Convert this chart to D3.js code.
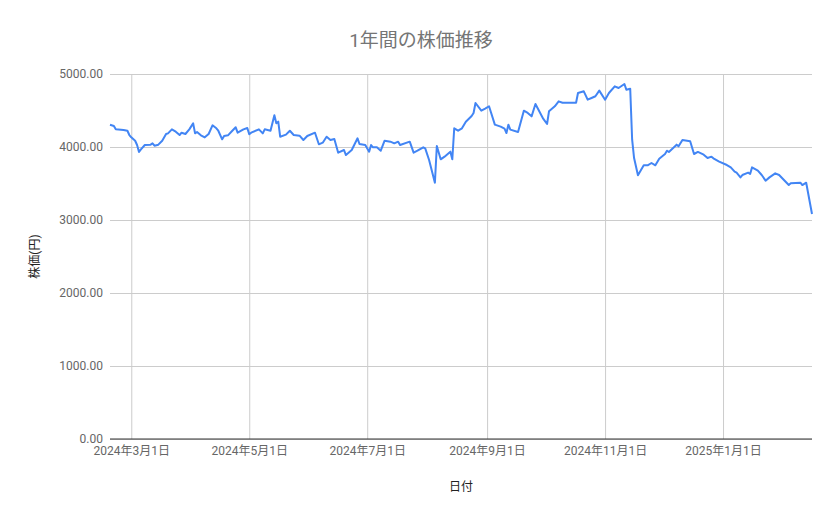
<!DOCTYPE html>
<html>
<head>
<meta charset="utf-8">
<script src="https://cdn.jsdelivr.net/npm/d3@7"></script>
<style>
  body { margin: 0; background: #fff; }
  svg text { font-family: Roboto, "Noto Sans CJK JP", sans-serif; }
</style>
</head>
<body>
<div id="chart"></div>
<script>
// data
const dates = [
  '2024-02-19', '2024-02-21', '2024-02-22', '2024-02-26', '2024-02-28', '2024-02-29',
  '2024-03-01', '2024-03-03', '2024-03-04', '2024-03-05', '2024-03-06', '2024-03-08',
  '2024-03-11', '2024-03-12', '2024-03-13', '2024-03-15', '2024-03-17', '2024-03-19',
  '2024-03-20', '2024-03-22', '2024-03-24', '2024-03-26', '2024-03-27', '2024-03-29',
  '2024-03-31', '2024-04-02', '2024-04-03', '2024-04-04', '2024-04-06', '2024-04-08',
  '2024-04-10', '2024-04-12', '2024-04-14', '2024-04-15', '2024-04-17', '2024-04-18',
  '2024-04-20', '2024-04-22', '2024-04-24', '2024-04-25', '2024-04-28', '2024-04-30',
  '2024-05-01', '2024-05-02', '2024-05-06', '2024-05-08', '2024-05-09', '2024-05-12',
  '2024-05-14', '2024-05-15', '2024-05-16', '2024-05-17', '2024-05-20', '2024-05-22',
  '2024-05-24', '2024-05-27', '2024-05-29', '2024-05-31', '2024-06-04', '2024-06-06',
  '2024-06-08', '2024-06-10', '2024-06-12', '2024-06-14', '2024-06-16', '2024-06-19',
  '2024-06-20', '2024-06-23', '2024-06-26', '2024-06-27', '2024-06-30', '2024-07-02',
  '2024-07-03', '2024-07-04', '2024-07-06', '2024-07-08', '2024-07-10', '2024-07-13',
  '2024-07-15', '2024-07-17', '2024-07-18', '2024-07-23', '2024-07-25', '2024-07-27',
  '2024-07-30', '2024-07-31', '2024-08-02', '2024-08-05', '2024-08-06', '2024-08-08',
  '2024-08-10', '2024-08-13', '2024-08-14', '2024-08-15', '2024-08-17', '2024-08-19',
  '2024-08-21', '2024-08-24', '2024-08-25', '2024-08-26', '2024-08-29', '2024-08-31',
  '2024-09-02', '2024-09-05', '2024-09-08', '2024-09-10', '2024-09-11', '2024-09-12',
  '2024-09-13', '2024-09-17', '2024-09-20', '2024-09-22', '2024-09-24', '2024-09-26',
  '2024-09-30', '2024-10-02', '2024-10-03', '2024-10-06', '2024-10-08', '2024-10-10',
  '2024-10-17', '2024-10-18', '2024-10-21', '2024-10-23', '2024-10-25', '2024-10-27',
  '2024-10-29', '2024-11-01', '2024-11-03', '2024-11-06', '2024-11-08', '2024-11-11',
  '2024-11-12', '2024-11-14', '2024-11-15', '2024-11-16', '2024-11-18', '2024-11-21',
  '2024-11-23', '2024-11-25', '2024-11-27', '2024-11-29', '2024-12-02', '2024-12-03',
  '2024-12-04', '2024-12-08', '2024-12-09', '2024-12-11', '2024-12-15', '2024-12-17',
  '2024-12-19', '2024-12-22', '2024-12-24', '2024-12-26', '2024-12-27', '2024-12-30',
  '2025-01-03', '2025-01-05', '2025-01-07', '2025-01-08', '2025-01-10', '2025-01-11',
  '2025-01-14', '2025-01-15', '2025-01-16', '2025-01-19', '2025-01-21', '2025-01-23',
  '2025-01-25', '2025-01-28', '2025-01-30', '2025-02-04', '2025-02-05', '2025-02-10',
  '2025-02-11', '2025-02-13', '2025-02-16',
];

const prices = [
  4305, 4288, 4242, 4233, 4223, 4164,
  4132, 4086, 4027, 3932, 3968, 4027,
  4032, 4050, 4018, 4032, 4086, 4178,
  4187, 4242, 4210, 4164, 4196, 4178,
  4242, 4324, 4187, 4205, 4160, 4132,
  4178, 4297, 4256, 4223, 4105, 4151,
  4160, 4215, 4270, 4196, 4242, 4260,
  4174, 4196, 4242, 4187, 4242, 4223,
  4434, 4324, 4347, 4141, 4169, 4223,
  4164, 4155, 4096, 4151, 4196, 4037,
  4059, 4141, 4096, 4110, 3922, 3959,
  3890, 3959, 4119, 4041, 4027, 3936,
  4027, 3995, 3995, 3949, 4086, 4073,
  4050, 4073, 4027, 4073, 3922, 3949,
  3995, 3982, 3822, 3511, 4014, 3831,
  3868, 3936, 3831, 4256, 4223, 4256,
  4347, 4425, 4466, 4603, 4497, 4525,
  4558, 4306, 4279, 4251, 4192, 4306,
  4238, 4205, 4497, 4466, 4420, 4589,
  4388, 4315, 4489, 4558, 4625, 4607,
  4607, 4740, 4763, 4648, 4671, 4695,
  4772, 4648, 4740, 4831, 4808, 4863,
  4785, 4799, 4100, 3849, 3612, 3749,
  3749, 3781, 3749, 3840, 3904, 3949,
  3932, 4032, 4009, 4096, 4078, 3904,
  3932, 3895, 3849, 3868, 3845, 3800,
  3753, 3721, 3662, 3648, 3584, 3616,
  3648, 3630, 3721, 3676, 3616, 3539,
  3584, 3639, 3616, 3479, 3502, 3511,
  3479, 3511, 3082,
];

const yTicks = [0, 1000, 2000, 3000, 4000, 5000];
const xTickDates = ['2024-03-01', '2024-05-01', '2024-07-01', '2024-09-01', '2024-11-01', '2025-01-01'];

const chartTitle = '1年間の株価推移';
const xTitle = '日付';
const yTitle = '株価(円)';

const width = 839;
const height = 519;

const dim = {
  left: 110,
  right: 812,
  top: 74,
  bottom: 439,
};

const parseDate = d3.timeParse('%Y-%m-%d');
const series = dates.map((d, i) => ({ date: parseDate(d), value: prices[i] }));

const svg = d3.select('#chart').append('svg')
  .attr('width', width)
  .attr('height', height);

const xScale = d3.scaleTime()
  .domain(d3.extent(series, d => d.date))
  .range([dim.left, dim.right]);

const yScale = d3.scaleLinear()
  .domain([0, 5000])
  .range([dim.bottom, dim.top]);

const fmtDate = d => `${d.getFullYear()}年${d.getMonth() + 1}月${d.getDate()}日`;

// gridlines
const yAxis = svg.append('g')
  .attr('transform', `translate(${dim.left}, 0)`)
  .call(d3.axisLeft(yScale)
    .tickValues(yTicks)
    .tickSize(-(dim.right - dim.left))
    .tickPadding(7)
    .tickFormat(d3.format('.2f')));
yAxis.select('.domain').remove();
yAxis.selectAll('line').attr('stroke', '#cccccc');
yAxis.selectAll('text')
  .attr('fill', '#666666')
  .style('font-size', '12px');

const xAxis = svg.append('g')
  .attr('transform', `translate(0, ${dim.bottom})`)
  .call(d3.axisBottom(xScale)
    .tickValues(xTickDates.map(parseDate))
    .tickSize(-(dim.bottom - dim.top))
    .tickPadding(7)
    .tickFormat(fmtDate));
xAxis.select('.domain').remove();
xAxis.selectAll('line').attr('stroke', '#cccccc');
xAxis.selectAll('text')
  .attr('fill', '#666666')
  .style('font-size', '12px');

// baseline at zero
svg.append('line')
  .attr('x1', dim.left)
  .attr('x2', dim.right)
  .attr('y1', yScale(0))
  .attr('y2', yScale(0))
  .attr('stroke', '#333333')
  .attr('stroke-width', 1);

// price line
const line = d3.line()
  .x(d => xScale(d.date))
  .y(d => yScale(d.value));

svg.append('path')
  .datum(series)
  .attr('fill', 'none')
  .attr('stroke', '#4285f4')
  .attr('stroke-width', 2)
  .attr('stroke-linejoin', 'round')
  .attr('d', line);

// titles
svg.append('text')
  .attr('x', 421)
  .attr('y', 47)
  .attr('text-anchor', 'middle')
  .attr('fill', '#757575')
  .style('font-size', '19px')
  .text(chartTitle);

svg.append('text')
  .attr('x', (dim.left + dim.right) / 2)
  .attr('y', 491)
  .attr('text-anchor', 'middle')
  .attr('fill', '#222222')
  .style('font-size', '12px')
  .text(xTitle);

svg.append('text')
  .attr('transform', `translate(39, ${(dim.top + dim.bottom) / 2}) rotate(-90)`)
  .attr('text-anchor', 'middle')
  .attr('fill', '#222222')
  .style('font-size', '12px')
  .text(yTitle);
</script>
</body>
</html>
